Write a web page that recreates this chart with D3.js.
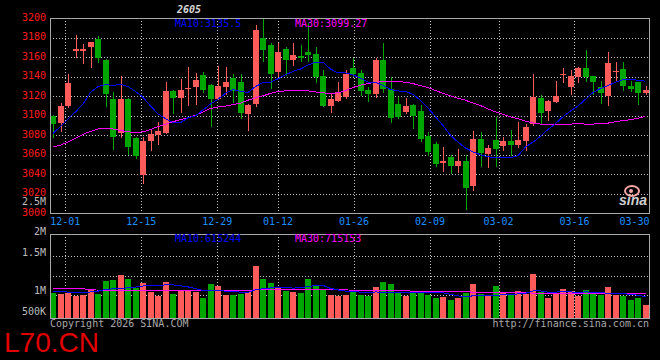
<!DOCTYPE html>
<html><head><meta charset="utf-8">
<script src="https://cdn.jsdelivr.net/npm/d3@7/dist/d3.min.js"></script>
<style>body{margin:0;background:#000;}svg{display:block;}</style>
</head><body>
<svg id="c" width="660" height="360"></svg>
<script>
// ---------- data ----------
const dates = ["11-27","11-28","12-01","12-02","12-03","12-04","12-05","12-08","12-09","12-10","12-11","12-12","12-15","12-16","12-17","12-18","12-19","12-22","12-23","12-24","12-25","12-26","12-29","12-30","12-31","01-05","01-06","01-07","01-08","01-09","01-12","01-13","01-14","01-15","01-16","01-19","01-20","01-21","01-22","01-23","01-26","01-27","01-28","01-29","01-30","02-02","02-03","02-04","02-05","02-06","02-09","02-10","02-11","02-12","02-13","02-24","02-25","02-26","02-27","03-02","03-03","03-04","03-05","03-06","03-09","03-10","03-11","03-12","03-13","03-16","03-17","03-18","03-19","03-20","03-23","03-24","03-25","03-26","03-27","03-30"];
const open  = [3100,3093,3110,3166.5,3166.5,3170.6,3178.5,3157,3117,3082, 3117,3077,3039,3074,3080,3082,3125,3118,3128,3129.5, 3141.5,3132,3117,3129.5,3139,3135,3102,3112,3180,3173, 3145,3169,3157.6,3161,3165,3163,3140.5,3110,3115,3119, 3149,3144,3126,3122,3157,3128,3112,3104,3111,3105, 3079,3071,3051.6,3058,3049,3054,3028,3076,3061,3075, 3069,3074,3070,3074,3092,3118.6,3105,3114,3142,3129.6, 3140,3149,3140.5,3130,3120,3144.6,3148,3131,3135,3123.4];
const high  = [3101,3113,3143,3183,3174,3176,3181.5,3158,3124,3140.5, 3118,3078,3078,3086,3094,3135,3126,3138,3150,3144, 3145,3133,3151,3150,3143,3143,3112,3193,3200,3175, 3175,3171,3175,3173,3195,3171,3147,3122,3135,3147, 3159,3147,3130,3159,3175,3140,3119,3118,3112.5,3111, 3083,3073,3068,3059.5,3066,3060,3084,3083,3070,3099, 3078,3085,3094,3092,3143,3121,3116,3136,3149,3147, 3150,3167,3141,3136,3165.5,3155,3155,3136,3135,3131];
const low   = [3077,3083,3108,3159,3153.5,3149,3154,3109,3065,3077, 3060,3056,3030.5,3064,3070,3081,3101.5,3103,3110,3111, 3123,3089,3116,3121,3113,3097,3084,3109,3155,3127, 3140,3140.5,3151,3155,3155,3134,3109,3103,3114,3117, 3140,3120,3114,3118.6,3123,3093,3097,3102,3086,3073, 3059,3047,3042,3040,3041,3003,3023,3048,3046,3048, 3064,3058.5,3067,3064,3090,3091,3095,3113,3134,3121, 3134,3135,3121,3112.5,3110,3135,3125.5,3124,3111,3121];
const close = [3092,3110,3134,3169,3169,3175.4,3159,3122,3078,3117, 3068,3059,3074,3081,3084,3125,3118,3126,3129,3136.4, 3126,3117,3130.6,3134.7,3125,3103,3111,3188,3167,3143, 3165,3157,3162,3159,3162,3140,3110,3117,3124,3143, 3143,3125.5,3122,3157,3127,3098,3099,3110,3099.5,3076, 3063,3051,3053.3,3048.5,3054,3026,3076,3062,3067,3066, 3074,3070,3075,3088.5,3119,3103,3115,3120,3143,3140.5, 3149,3140,3135,3123,3154,3145.6,3131,3127,3123,3126.2];
const ma10  = [3082,3089,3097,3104,3112,3124,3130,3132,3131,3132.5, 3130,3125,3119,3110,3102,3097,3093,3093,3098,3100, 3106,3112,3117,3123,3127,3125,3124,3130,3134,3134.5, 3138,3142,3145.5,3148,3152,3155,3155,3148,3144,3144, 3142,3138.5,3134.5,3134.5,3131,3127,3125.5,3125,3122,3116, 3108,3099,3090,3080,3073,3067,3063,3060,3058,3057, 3057,3057,3059,3068,3073,3079,3086,3092,3099,3105, 3110,3117,3124,3128,3131,3134.5,3137,3137.5,3136.5,3135.5];
const ma30  = [3068,3070,3073,3077,3081,3084,3086.5,3087,3086.5,3085, 3083.5,3083,3083.5,3086,3089,3091.5,3094,3096,3098,3100.5, 3104,3107.5,3109,3110,3111.5,3113,3116,3118.5,3120.5,3123, 3125,3125.5,3125.5,3125.5,3125.5,3124.5,3123.5,3123,3123.5,3126, 3129,3131.5,3133,3134.5,3135,3135,3135,3134.5,3133,3131, 3129,3126,3123,3120.5,3118,3116,3113,3110.5,3107,3104, 3101.5,3099,3097,3094.5,3092.5,3091.5,3091,3091,3091,3091.5, 3092,3091.5,3091.5,3092,3092.5,3094,3095,3096,3097.5,3099.27];
const volume = [1059000,1026000,1059000,974000,1000000,1146000,1026000,1359000,1385000,1513000, 1410000,1170000,1316000,1085000,983000,1342000,1026000,1128000,1111000,1085000, 932000,1282000,1231000,1000000,1000000,1026000,1085000,1750000,1410000,1300000, 1213000,1111000,1085000,1059000,1410000,1231000,1146000,1000000,983000,1000000, 1085000,1000000,974000,1213000,1342000,1282000,1043000,974000,1043000,1059000, 1000000,932000,957000,872000,915000,1059000,1282000,1026000,974000,1231000, 1077000,1026000,1103000,1026000,1538000,1077000,923000,1059000,1154000,1111000, 974000,1128000,1026000,1000000,1213000,1000000,983000,872000,923000,744000];
const volMa10 = [1100000,1085000,1075000,1068000,1070000,1077000,1100000,1140000,1160000,1155000, 1190000,1204000,1230000,1241000,1239000,1259000,1259000,1236000,1208000,1166000, 1118000,1120000,1110000,1100000,1100000,1070000,1070000,1130000,1160000,1180000, 1205000,1190000,1178000,1183000,1220000,1240000,1245000,1170000,1130000,1100000, 1085000,1075000,1065000,1078000,1070000,1075000,1065000,1062000,1068000,1072000, 1063000,1056000,1055000,1020000,978000,955000,979000,985000,978000,995000, 1003000,1012000,1027000,1042000,1104000,1106000,1070000,1073000,1091000,1079000, 1069000,1079000,1072000,1069000,1037000,1029000,1035000,1016000,993000,956000];
const volMa30 = [1170000,1170000,1170000,1165000,1160000,1140000,1125000,1120000,1120000,1120000, 1120000,1115000,1115000,1115000,1120000,1120000,1120000,1120000,1115000,1115000, 1115000,1120000,1120000,1120000,1120000,1120000,1125000,1130000,1135000,1140000, 1140000,1145000,1145000,1145000,1145000,1145000,1140000,1140000,1135000,1130000, 1125000,1120000,1120000,1115000,1115000,1110000,1110000,1105000,1100000,1100000, 1100000,1095000,1090000,1090000,1085000,1080000,1075000,1070000,1065000,1065000, 1060000,1060000,1055000,1055000,1050000,1050000,1050000,1045000,1045000,1045000, 1040000,1040000,1040000,1035000,1035000,1035000,1030000,1030000,1030000,1030000];
const priceTicks = [3000,3020,3040,3060,3080,3100,3120,3140,3160,3180,3200];
const volGridValues = [1000000,1500000,2000000];
const volTickValues = [2500000,2000000,1500000,1000000,500000];
const volTickLabels = ["2.5M","2M","1.5M","1M","500K"];
const xLabelDates = ["12-01","12-15","12-29","01-12","01-26","02-09","03-02","03-16","03-30"];
const volMaLabelValues = [615244, 715153];
const headerText = "2605";
const copyrightLeft = "Copyright 2026 SINA.COM";
const copyrightRight = "http://finance.sina.com.cn";
const watermark = "L70.CN";

// ---------- drawing ----------
const W = 660, H = 360;
const RED = "#ff5b5b", GREEN = "#00a600", GRID = "#c0c0c0", FRAME = "#a8a8a8";
const MONO = "'DejaVu Sans Mono', 'Liberation Mono', monospace";
const P = {l: 50, r: 649, t: 18, b: 213};
const V = {t: 234, b: 318};
const svg = d3.select("#c");
svg.append("rect").attr("width", W).attr("height", H).attr("fill", "#000");

const x = d3.scaleBand().domain(dates).range([49.25, 649.25]);
const gx = d3.scaleLinear().domain([0, dates.length - 1]).range([50.1, 650.5]);
const y = d3.scaleLinear().domain([3000, 3200]).range([213.3, 18.3]);
const yv = d3.scaleLinear().domain([500000, 1000000]).range([314.5, 295]);
const yvLabel = d3.scaleLinear().domain([500000, 1000000, 1500000, 2000000, 2500000]).range([314.5, 293.5, 255.5, 234.5, 204.5]);
const idx = d3.range(dates.length);
const cx = i => x(dates[i]) + x.bandwidth() / 2;
const left = i => Math.round(cx(i) - 3);
const up = i => close[i] >= open[i];
const col = i => up(i) ? RED : GREEN;
const half = v => Math.round(v) + 0.5;

// clip paths
const defs = svg.append("defs");
defs.append("clipPath").attr("id", "cp").append("rect").attr("x", P.l + 1).attr("y", P.t + 1).attr("width", P.r - P.l - 1).attr("height", P.b - P.t - 1);
defs.append("clipPath").attr("id", "cv").append("rect").attr("x", P.l + 1).attr("y", V.t + 1).attr("width", P.r - P.l - 1).attr("height", V.b - V.t - 1);

// grids
const grid = svg.append("g").attr("stroke", GRID).attr("stroke-width", 1).attr("stroke-dasharray", "1,2").attr("shape-rendering", "crispEdges");
grid.selectAll("line.h").data(priceTicks.filter(t => t > 3000 && t < 3200)).join("line")
  .attr("x1", P.l).attr("x2", P.r).attr("y1", d => half(y(d))).attr("y2", d => half(y(d)));
grid.selectAll("line.vh").data(volGridValues).join("line").attr("class", "vh")
  .attr("x1", P.l).attr("x2", P.r).attr("y1", d => half(yv(d))).attr("y2", d => half(yv(d)));
const gridIdx = xLabelDates.map(d => dates.indexOf(d)).filter(i => gx(i) < P.r - 1);
grid.selectAll("line.v1").data(gridIdx).join("line").attr("class", "v1")
  .attr("x1", i => half(gx(i))).attr("x2", i => half(gx(i))).attr("y1", P.t).attr("y2", P.b);
grid.selectAll("line.v2").data(gridIdx).join("line").attr("class", "v2")
  .attr("x1", i => half(gx(i))).attr("x2", i => half(gx(i))).attr("y1", V.t).attr("y2", V.b);

// frames
const fr = svg.append("g").attr("stroke", FRAME).attr("fill", "none").attr("shape-rendering", "crispEdges");
fr.append("rect").attr("x", P.l + 0.5).attr("y", P.t + 0.5).attr("width", P.r - P.l).attr("height", P.b - P.t);
fr.append("rect").attr("x", P.l + 0.5).attr("y", V.t + 0.5).attr("width", P.r - P.l).attr("height", V.b - V.t);

// candles
const cg = svg.append("g").attr("clip-path", "url(#cp)").attr("shape-rendering", "crispEdges");
cg.selectAll("rect.w").data(idx).join("rect").attr("class", "w")
  .attr("x", i => left(i) + 3).attr("width", 1)
  .attr("y", i => Math.round(y(high[i])))
  .attr("height", i => Math.max(1, Math.round(y(low[i])) - Math.round(y(high[i]))))
  .attr("fill", col);
cg.selectAll("rect.b").data(idx).join("rect").attr("class", "b")
  .attr("x", i => left(i)).attr("width", 6)
  .attr("y", i => Math.round(y(Math.max(open[i], close[i]))))
  .attr("height", i => Math.max(1, Math.round(y(Math.min(open[i], close[i]))) - Math.round(y(Math.max(open[i], close[i])))))
  .attr("fill", col);

// price MA lines
const lineP = arr => d3.line().x(i => cx(i)).y(i => y(arr[i]))(idx);
cg.append("path").attr("d", lineP(ma30)).attr("fill", "none").attr("stroke", "#ff00ff").attr("stroke-width", 1);
cg.append("path").attr("d", lineP(ma10)).attr("fill", "none").attr("stroke", "#0000ff").attr("stroke-width", 1);

// volume bars
const vg = svg.append("g").attr("clip-path", "url(#cv)").attr("shape-rendering", "crispEdges");
vg.selectAll("rect").data(idx).join("rect")
  .attr("x", i => left(i)).attr("width", 6)
  .attr("y", i => Math.round(yv(volume[i])))
  .attr("height", i => V.b - Math.round(yv(volume[i])))
  .attr("fill", col);
const lineV = arr => d3.line().x(i => cx(i)).y(i => yv(arr[i]))(idx);
vg.append("path").attr("d", lineV(volMa30)).attr("fill", "none").attr("stroke", "#ff00ff").attr("stroke-width", 1);
vg.append("path").attr("d", lineV(volMa10)).attr("fill", "none").attr("stroke", "#0000ff").attr("stroke-width", 1);

// texts
const T = svg.append("g").style("font-family", MONO).style("font-size", "10px");
T.selectAll("text.p").data(priceTicks).join("text").attr("class", "p")
  .attr("x", 46).attr("y", d => y(d) + 2.5).attr("text-anchor", "end").attr("fill", "#ff1a1a").text(d => d);
T.selectAll("text.v").data(volTickValues).join("text").attr("class", "v")
  .attr("x", 46).attr("y", d => yvLabel(d)).attr("text-anchor", "end").attr("fill", "#bdbdbd")
  .text((d, k) => volTickLabels[k]);
T.selectAll("text.d").data(xLabelDates).join("text").attr("class", "d")
  .attr("x", d => Math.min(gx(dates.indexOf(d)), P.r - 14.5))
  .attr("y", 225).attr("text-anchor", "middle").attr("fill", "#1e8fff").text(d => d);
T.append("text").attr("x", 175).attr("y", 26.5).attr("fill", "#0000ff").text("MA10:" + ma10[ma10.length - 1]);
T.append("text").attr("x", 295).attr("y", 26.5).attr("fill", "#ff00ff").text("MA30:" + ma30[ma30.length - 1]);
T.append("text").attr("x", 175).attr("y", 242).attr("fill", "#0000ff").text("MA10:" + volMaLabelValues[0]);
T.append("text").attr("x", 295).attr("y", 242).attr("fill", "#ff00ff").text("MA30:" + volMaLabelValues[1]);
T.append("text").attr("x", 177).attr("y", 13).attr("fill", "#d8d8d8").style("font-weight", "bold").style("font-style", "italic").text(headerText);
T.append("text").attr("x", 50).attr("y", 327).attr("fill", "#a8a8a8").text(copyrightLeft);
T.append("text").attr("x", 649).attr("y", 327).attr("text-anchor", "end").attr("fill", "#a8a8a8").text(copyrightRight);

// sina logo
const lg = svg.append("g");
lg.append("ellipse").attr("cx", 632).attr("cy", 191).attr("rx", 7).attr("ry", 5).attr("fill", "none").attr("stroke", "#f4a6a6").attr("stroke-width", 2);
lg.append("circle").attr("cx", 631).attr("cy", 191).attr("r", 2).attr("fill", "#f4a6a6");
lg.append("text").attr("x", 619).attr("y", 205).attr("fill", "#cfcfcf")
  .style("font-family", "'Liberation Sans', Arial, sans-serif").style("font-size", "14px").style("font-weight", "bold").style("font-style", "italic").text("sina");

// watermark
svg.append("text").attr("x", 4).attr("y", 352).attr("fill", "#e00000")
  .style("font-family", "'Liberation Sans', Arial, sans-serif").style("font-size", "28px").text(watermark);
</script>
</body></html>
